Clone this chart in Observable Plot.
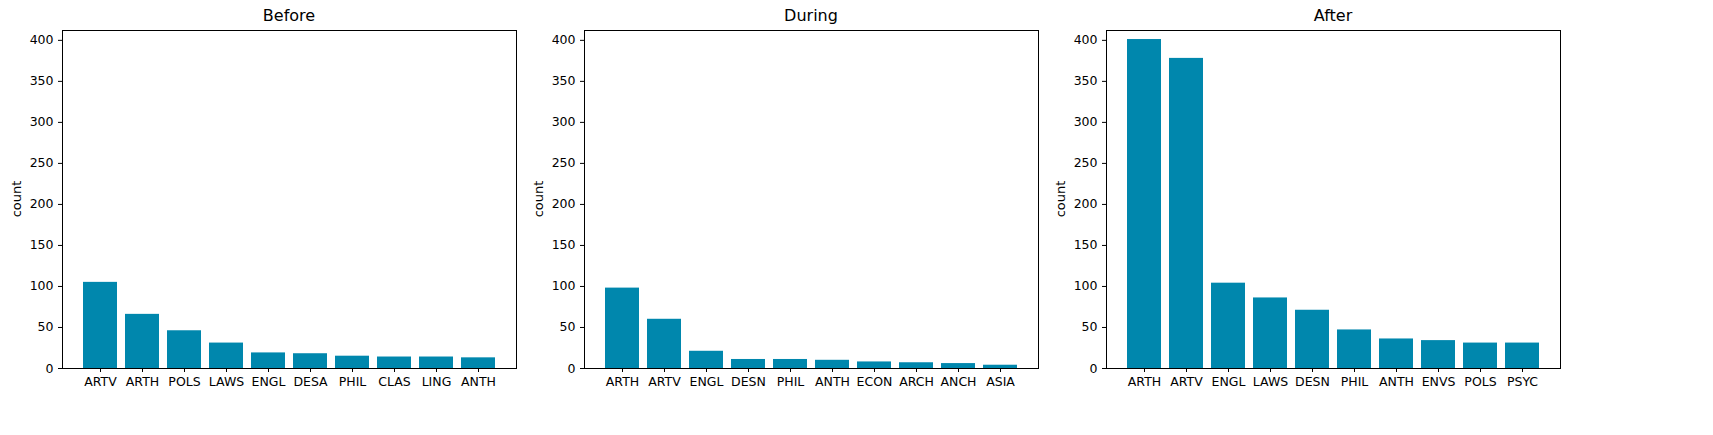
<!DOCTYPE html>
<html><head><meta charset="utf-8">
<script src="https://cdn.jsdelivr.net/npm/d3@7"></script>
<script src="https://cdn.jsdelivr.net/npm/@observablehq/plot@0.6"></script>
<style>
body{margin:0;background:#fff;font-family:"DejaVu Sans",sans-serif}
#wrap{position:relative;width:1713px;height:435px}
.p{position:absolute;top:0}
.t{position:absolute;top:6px;font-size:16px;text-align:center;width:454px}
.yl{position:absolute;top:199px;font-size:13px;transform:translate(-50%,-50%) rotate(-90deg)}
</style></head><body><div id="wrap"></div>
<script>
const titles = ["Before","During","After"];
const beforeCats = ["ARTV","ARTH","POLS","LAWS","ENGL","DESA","PHIL","CLAS","LING","ANTH"];
const beforeVals = [105,66,46,31,19,18,15,14,14,13];
const duringCats = ["ARTH","ARTV","ENGL","DESN","PHIL","ANTH","ECON","ARCH","ANCH","ASIA"];
const duringVals = [98,60,21,11,11,10,8,7,6,4];
const afterCats = ["ARTH","ARTV","ENGL","LAWS","DESN","PHIL","ANTH","ENVS","POLS","PSYC"];
const afterVals = [401,378,104,86,71,47,36,34,31,31];
const yTicks = [0,50,100,150,200,250,300,350,400];
const panels = [[beforeCats,beforeVals],[duringCats,duringVals],[afterCats,afterVals]];
const frameLefts = [62,584,1106];
const wrap = document.getElementById("wrap");
panels.forEach(([cats,vals],i)=>{
  const data = cats.map((c,j)=>({c,v:vals[j]}));
  const ml=62, mr=10;
  const svg = Plot.plot({
    width:454+ml+mr, height:435,
    marginLeft:ml, marginRight:mr, marginTop:30, marginBottom:67,
    style:{fontFamily:"DejaVu Sans",fontSize:"12.5px",color:"#000",background:"transparent"},
    x:{domain:cats, paddingInner:0.2, paddingOuter:0.49, label:null, tickSize:4},
    y:{domain:[0,412], ticks:yTicks, label:null, tickSize:4},
    marks:[
      Plot.barY(data,{x:"c",y:"v",fill:"#0087ad"}),
      Plot.frame({stroke:"#000"})
    ]
  });
  svg.classList.add("p");
  svg.style.left=(frameLefts[i]-ml)+"px";
  wrap.appendChild(svg);
  const t=document.createElement("div");
  t.className="t"; t.textContent=titles[i]; t.style.left=frameLefts[i]+"px";
  wrap.appendChild(t);
  const yl=document.createElement("div");
  yl.className="yl"; yl.textContent="count"; yl.style.left=(frameLefts[i]-46)+"px";
  wrap.appendChild(yl);
});
</script></body></html>
